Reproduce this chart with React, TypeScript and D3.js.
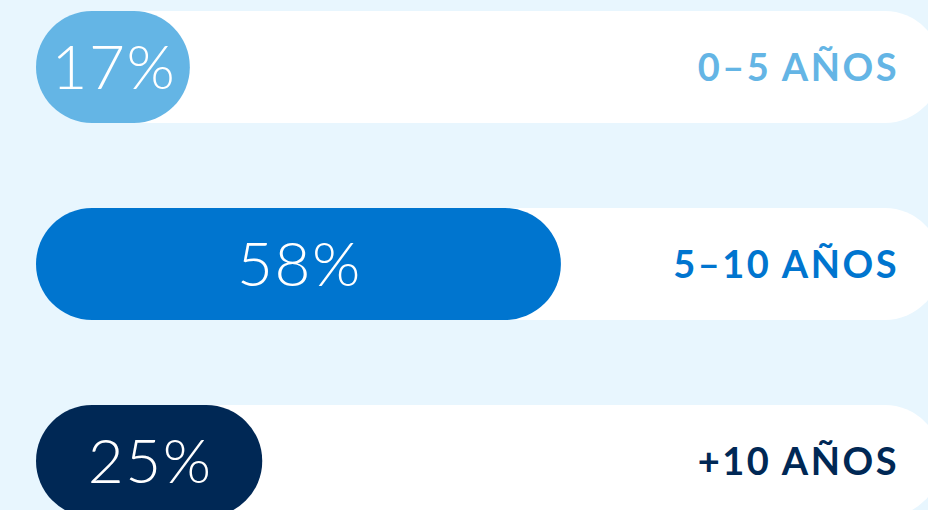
import React from "react";
import * as d3 from "d3";

const categories = ["0–5 AÑOS", "5–10 AÑOS", "+10 AÑOS"];
const values = [17, 58, 25];
const colors = ["#64B5E5", "#0075CF", "#002855"];

const W = 928;
const H = 510;

export default function App() {
  const x = d3.scaleLinear().domain([0, 100]).range([0, 905]);
  const y = d3
    .scaleBand<string>()
    .domain(categories)
    .range([11, 517])
    .paddingInner(85 / 197)
    .paddingOuter(0);
  const bh = y.bandwidth();
  const r = bh / 2;
  const x0 = 36;

  return (
    <svg
      width={W}
      height={H}
      style={{ position: "absolute", left: 0, top: 0, display: "block" }}
    >
      <rect x={0} y={0} width={W} height={H} fill="#E8F6FE" />
      {categories.map((c, i) => {
        const yy = y(c)!;
        const cy = yy + bh / 2;
        const w = x(values[i]);
        return (
          <g key={c}>
            <rect x={x0 + r} y={yy} width={x(100) - r} height={bh} rx={r} ry={r} fill="#FFFFFF" />
            <rect x={x0 + r} y={yy} width={r} height={bh} fill="#FFFFFF" />
            <rect x={x0} y={yy} width={w} height={bh} rx={r} ry={r} fill={colors[i]} />
            <text
              x={x0 + w / 2 + 1}
              y={cy + 22}
              textAnchor="middle"
              fill="#FFFFFF"
              fontFamily="Lato, 'Open Sans', sans-serif"
              fontWeight={300}
              fontSize={62}
              letterSpacing={1.5}
            >
              {values[i]}%
            </text>
            <text
              x={899}
              y={cy + 14}
              textAnchor="end"
              fill={colors[i]}
              fontFamily="Lato, 'Open Sans', sans-serif"
              fontWeight={700}
              fontSize={38}
              letterSpacing={2.5}
            >
              {c}
            </text>
          </g>
        );
      })}
    </svg>
  );
}
